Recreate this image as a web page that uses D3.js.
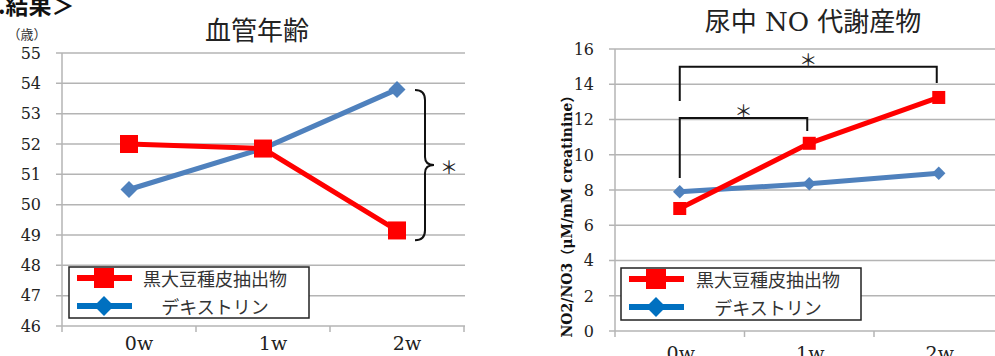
<!DOCTYPE html>
<html>
<head>
<meta charset="utf-8">
<script src="https://cdn.jsdelivr.net/npm/d3@7"></script>
<style>
  body { margin: 0; background: #fff; }
  svg { display: block; }
  .grid line { stroke: #b4b4b4; stroke-width: 1.5; }
  .tick-label { font-family: "DejaVu Serif", serif; fill: #222; }
</style>
</head>
<body>
<div id="chart"></div>
<script>
// Chart values
var categories = ["0w", "1w", "2w"];
var seriesNames = ["黒大豆種皮抽出物", "デキストリン"];

var ageTicks = [46, 47, 48, 49, 50, 51, 52, 53, 54, 55];
var ageExtract = [52.0, 51.85, 49.15];
var ageDextrin = [50.5, 51.85, 53.8];

var noTicks = [0, 2, 4, 6, 8, 10, 12, 14, 16];
var noExtract = [6.95, 10.65, 13.25];
var noDextrin = [7.9, 8.35, 8.95];

// significance marks (in data units)
var ageBrace = {top: 53.78, bottom: 48.83};
var noBrackets = [
  {from: "0w", to: "2w", level: 15.0, leftEnd: 13.05, rightEnd: 14.07},
  {from: "0w", to: "1w", level: 12.08, leftEnd: 8.68, rightEnd: 11.35}
];

var red = "#ff0000", blueLine = "#4f81bd", blueKey = "#0070c0";
var serif = "'DejaVu Serif', 'Noto Sans CJK JP', serif";
var cjk = "'Noto Sans CJK JP', sans-serif";

var svg = d3.select("#chart").append("svg")
  .attr("width", 995)
  .attr("height", 356);

// header text cut off at the top
svg.append("text")
  .attr("x", -2).attr("y", 14)
  .style("font-family", cjk).style("font-size", "23px").style("font-weight", "bold")
  .attr("fill", "#111")
  .text(".結果＞");

function drawChart(opt) {
  var g = svg.append("g");

  var x = d3.scaleBand().domain(categories).range([opt.left, opt.right]);
  var y = d3.scaleLinear().domain(d3.extent(opt.ticks)).range([opt.bottom, opt.top]);
  var cx = function(c) { return x(c) + x.bandwidth() / 2; };

  // gridlines
  g.append("g").attr("class", "grid")
    .selectAll("line").data(opt.ticks).enter().append("line")
    .attr("x1", opt.left - 6).attr("x2", opt.gridRight)
    .attr("y1", function(d) { return y(d); })
    .attr("y2", function(d) { return y(d); });

  // y axis line
  g.append("line")
    .attr("x1", opt.left).attr("x2", opt.left)
    .attr("y1", opt.top).attr("y2", opt.bottom)
    .attr("stroke", "#b4b4b4").attr("stroke-width", 1.5);

  // x axis ticks
  var edges = categories.map(function(c) { return x(c); }).concat([opt.right]);
  g.selectAll(".xtick").data(edges).enter().append("line")
    .attr("x1", function(d) { return d; }).attr("x2", function(d) { return d; })
    .attr("y1", opt.bottom).attr("y2", opt.bottom + 6)
    .attr("stroke", "#b4b4b4").attr("stroke-width", 1.5);

  // y tick labels
  g.selectAll(".ylab").data(opt.ticks).enter().append("text")
    .attr("class", "tick-label")
    .attr("x", opt.left - 21)
    .attr("y", function(d) { return y(d); })
    .attr("dy", "0.36em")
    .attr("text-anchor", "end")
    .style("font-size", "16px")
    .text(function(d) { return d; });

  // x tick labels
  g.selectAll(".xlab").data(categories).enter().append("text")
    .attr("class", "tick-label")
    .attr("x", function(d) { return cx(d) + opt.xLabelShift; })
    .attr("y", opt.xLabelY)
    .attr("text-anchor", "middle")
    .style("font-size", "19px")
    .text(function(d) { return d; });

  // title
  g.append("text")
    .attr("x", opt.titleX).attr("y", opt.titleY)
    .attr("text-anchor", "middle")
    .attr("dominant-baseline", "central")
    .style("font-family", serif).style("font-size", "26px")
    .attr("fill", "#222")
    .text(opt.title);

  var line = d3.line()
    .x(function(d, i) { return cx(categories[i]); })
    .y(function(d) { return y(d); });

  // dextrin series
  g.append("path").datum(opt.dextrin)
    .attr("d", line).attr("fill", "none")
    .attr("stroke", blueLine).attr("stroke-width", 5);
  g.selectAll(".dia").data(opt.dextrin).enter().append("rect")
    .attr("x", -opt.diaSize / 2).attr("y", -opt.diaSize / 2)
    .attr("width", opt.diaSize).attr("height", opt.diaSize)
    .attr("fill", blueLine)
    .attr("transform", function(d, i) {
      return "translate(" + cx(categories[i]) + "," + y(d) + ") rotate(45)";
    });

  // extract series
  g.append("path").datum(opt.extract)
    .attr("d", line).attr("fill", "none")
    .attr("stroke", red).attr("stroke-width", 5);
  g.selectAll(".sq").data(opt.extract).enter().append("rect")
    .attr("x", function(d, i) { return cx(categories[i]) - opt.sqSize / 2; })
    .attr("y", function(d) { return y(d) - opt.sqSize / 2; })
    .attr("width", opt.sqSize).attr("height", opt.sqSize)
    .attr("fill", red);

  // legend
  var lg = g.append("g").attr("transform", "translate(" + opt.legend.x + "," + opt.legend.y + ")");
  lg.append("rect")
    .attr("width", opt.legend.w).attr("height", opt.legend.h)
    .attr("fill", "#fff").attr("stroke", "#222").attr("stroke-width", 1.5);
  var rows = [
    {name: seriesNames[0], color: red, y: 11},
    {name: seriesNames[1], color: blueKey, y: 39}
  ];
  rows.forEach(function(r, i) {
    lg.append("line")
      .attr("x1", 8).attr("x2", 63).attr("y1", r.y).attr("y2", r.y)
      .attr("stroke", r.color).attr("stroke-width", 6);
    if (i === 0) {
      lg.append("rect").attr("x", 25).attr("y", r.y - 10)
        .attr("width", 20).attr("height", 20).attr("fill", r.color);
    } else {
      lg.append("rect").attr("x", -7).attr("y", -7)
        .attr("width", 14).attr("height", 14).attr("fill", r.color)
        .attr("transform", "translate(35," + r.y + ") rotate(45)");
    }
    lg.append("text")
      .attr("x", opt.legend.textX).attr("y", r.y)
      .attr("text-anchor", "middle")
      .attr("dominant-baseline", "central")
      .style("font-family", cjk).style("font-size", "18px")
      .attr("fill", "#333")
      .text(r.name);
  });

  return {g: g, x: x, y: y, cx: cx};
}

// left: 血管年齢
var left = drawChart({
  left: 62, right: 464, gridRight: 465, top: 53, bottom: 326,
  ticks: ageTicks, extract: ageExtract, dextrin: ageDextrin,
  title: "血管年齢", titleX: 257, titleY: 31,
  xLabelY: 350, xLabelShift: 10,
  sqSize: 18, diaSize: 12,
  legend: {x: 69, y: 267, w: 240, h: 51, textX: 146}
});

svg.append("text")
  .attr("x", 27).attr("y", 33)
  .attr("text-anchor", "middle").attr("dominant-baseline", "central")
  .style("font-family", cjk).style("font-size", "13px").attr("fill", "#333")
  .text("（歳）");

// brace on the right of the 2w points
(function() {
  var bx = left.cx("2w") + 18;
  var yt = left.y(ageBrace.top), yb = left.y(ageBrace.bottom);
  var ym = (yt + yb) / 2;
  var p = d3.path();
  p.moveTo(bx, yt);
  p.quadraticCurveTo(bx + 10, yt, bx + 10, yt + 10);
  p.lineTo(bx + 10, ym - 8);
  p.quadraticCurveTo(bx + 10, ym, bx + 19, ym);
  p.quadraticCurveTo(bx + 10, ym, bx + 10, ym + 8);
  p.lineTo(bx + 10, yb - 10);
  p.quadraticCurveTo(bx + 10, yb, bx, yb);
  svg.append("path").attr("d", p.toString())
    .attr("fill", "none").attr("stroke", "#111").attr("stroke-width", 2);
  svg.append("text")
    .attr("x", bx + 34).attr("y", ym + 1)
    .attr("text-anchor", "middle").attr("dominant-baseline", "central")
    .style("font-family", cjk).style("font-size", "18px").attr("fill", "#222")
    .text("＊");
})();

// right: 尿中 NO 代謝産物
var right = drawChart({
  left: 615, right: 1003.5, gridRight: 995, top: 49, bottom: 331,
  ticks: noTicks, extract: noExtract, dextrin: noDextrin,
  title: "尿中 NO 代謝産物", titleX: 813, titleY: 22,
  xLabelY: 360, xLabelShift: 1,
  sqSize: 13, diaSize: 9.5,
  legend: {x: 621, y: 268, w: 240, h: 52, textX: 147}
});

svg.append("text")
  .attr("transform", "translate(567,213) rotate(-90)")
  .attr("text-anchor", "middle").attr("dominant-baseline", "central")
  .style("font-family", serif).style("font-size", "14px").style("font-weight", "bold")
  .attr("fill", "#111")
  .text("NO2/NO3（μM/mM creatinine）");

noBrackets.forEach(function(b) {
  var x1 = right.cx(b.from), x2 = right.cx(b.to) - 2;
  var yl = right.y(b.level);
  svg.append("path")
    .attr("d", "M" + x1 + "," + right.y(b.leftEnd) + "V" + yl + "H" + x2 + "V" + right.y(b.rightEnd))
    .attr("fill", "none").attr("stroke", "#111").attr("stroke-width", 2);
  svg.append("text")
    .attr("x", (x1 + x2) / 2).attr("y", yl - 8)
    .attr("text-anchor", "middle").attr("dominant-baseline", "central")
    .style("font-family", cjk).style("font-size", "18px").attr("fill", "#222")
    .text("＊");
});
</script>
</body>
</html>
